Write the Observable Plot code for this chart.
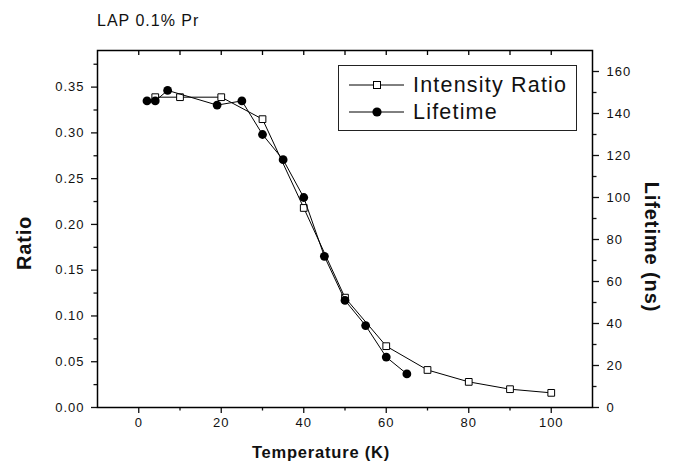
<!DOCTYPE html>
<html><head><meta charset="utf-8">
<script src="https://cdn.jsdelivr.net/npm/d3@7"></script>
<script src="https://cdn.jsdelivr.net/npm/@observablehq/plot@0.6"></script>
<style>
body{margin:0;background:#fff;}
#wrap{position:relative;width:682px;height:470px;font-family:Arial,"Liberation Sans",sans-serif;color:#111;overflow:hidden;}
.lbl{position:absolute;white-space:nowrap;line-height:1;}
.rowtxt{position:absolute;left:74px;font-size:21.5px;letter-spacing:1.2px;line-height:26px;}
</style></head><body>
<div id="wrap"></div>
<script>
const title = "LAP 0.1% Pr";
const xLabel = "Temperature (K)";
const yLeftLabel = "Ratio";
const yRightLabel = "Lifetime (ns)";
const seriesNames = ["Intensity Ratio", "Lifetime"];

const ratioTemp   = [4, 10, 20, 30, 40, 50, 60, 70, 80, 90, 100];
const ratioValues = [0.339, 0.339, 0.339, 0.315, 0.218, 0.120, 0.067, 0.041, 0.028, 0.020, 0.016];
const lifeTemp    = [2, 4, 7, 19, 25, 30, 35, 40, 45, 50, 55, 60, 65];
const lifeValues  = [146, 146, 151, 144, 146, 130, 118, 100, 72, 51, 39, 24, 16];

const xDomain = [-10, 110];
const xTicks = [0, 20, 40, 60, 80, 100];
const xMinorTicks = [10, 30, 50, 70, 90];
const xTopTicks = [0, 10, 20, 30, 40, 50, 60, 70, 80, 90, 100];
const yLeftDomain = [0, 0.39];
const yLeftTicks = [0, 0.05, 0.10, 0.15, 0.20, 0.25, 0.30, 0.35];
const yLeftMinor = [0.025, 0.075, 0.125, 0.175, 0.225, 0.275, 0.325, 0.375];
const yRightDomain = [0, 170];
const yRightTicks = [0, 20, 40, 60, 80, 100, 120, 140, 160];
const yRightMinor = [10, 30, 50, 70, 90, 110, 130, 150];

const W = 682, H = 470;
const M = {top: 50, right: 90, bottom: 63, left: 97};
const frameH = H - M.top - M.bottom;
const svgStyle = "position:absolute;left:0;top:0;background:transparent;font-family:Arial,'Liberation Sans',sans-serif;font-size:13px;letter-spacing:1px;color:#111;overflow:visible;";
const base = {width: W, height: H, marginTop: M.top, marginRight: M.right, marginBottom: M.bottom, marginLeft: M.left, style: svgStyle};

const ratioData = ratioTemp.map((t, i) => ({t, v: ratioValues[i]}));
const lifeData = lifeTemp.map((t, i) => ({t, v: lifeValues[i]}));

const plotA = Plot.plot({
  ...base,
  x: {domain: xDomain},
  y: {domain: yLeftDomain},
  marks: [
    Plot.axisX(xTicks, {anchor: "bottom", tickSize: 6, tickPadding: 4, label: null, strokeWidth: 1.3}),
    Plot.axisX(xMinorTicks, {anchor: "bottom", tickSize: 3.5, tickFormat: () => "", label: null, strokeWidth: 1.3}),
    Plot.tickX(xTopTicks, {x: d => d, insetBottom: frameH - 5, stroke: "#000", strokeWidth: 1.3}),
    Plot.axisY(yLeftTicks, {anchor: "left", tickSize: 6, tickPadding: 7, tickFormat: d3.format(".2f"), label: null, strokeWidth: 1.3}),
    Plot.axisY(yLeftMinor, {anchor: "left", tickSize: 3.5, tickFormat: () => "", label: null, strokeWidth: 1.3}),
    Plot.frame({stroke: "#000", strokeWidth: 1.5}),
    Plot.line(ratioData, {x: "t", y: "v", stroke: "#000", strokeWidth: 1}),
    Plot.dot(ratioData, {x: "t", y: "v", symbol: "square", r: 3.8, fill: "#fff", stroke: "#000", strokeWidth: 1})
  ]
});

const plotB = Plot.plot({
  ...base,
  x: {domain: xDomain, axis: null},
  y: {domain: yRightDomain},
  marks: [
    Plot.axisY(yRightTicks, {anchor: "right", tickSize: 6, tickPadding: 8, label: null, strokeWidth: 1.3}),
    Plot.axisY(yRightMinor, {anchor: "right", tickSize: 3.5, tickFormat: () => "", label: null, strokeWidth: 1.3}),
    Plot.line(lifeData, {x: "t", y: "v", stroke: "#000", strokeWidth: 1}),
    Plot.dot(lifeData, {x: "t", y: "v", r: 4.4, fill: "#000", stroke: "none"})
  ]
});

const wrap = document.getElementById("wrap");
wrap.appendChild(plotA);
wrap.appendChild(plotB);

function addLabel(text, css) {
  const d = document.createElement("div");
  d.className = "lbl";
  d.textContent = text;
  d.style.cssText += css;
  wrap.appendChild(d);
  return d;
}
addLabel(title, "left:97px;top:13px;font-size:16px;letter-spacing:1px;");
addLabel(xLabel, "left:321px;top:452px;transform:translate(-50%,-50%);font-size:16.5px;font-weight:bold;letter-spacing:0.8px;");
addLabel(yLeftLabel, "left:24px;top:243px;transform:translate(-50%,-50%) rotate(-90deg);font-size:20px;font-weight:bold;letter-spacing:0.8px;");
addLabel(yRightLabel, "left:652px;top:247px;transform:translate(-50%,-50%) rotate(90deg);font-size:20px;font-weight:bold;letter-spacing:0.9px;");

// legend
const leg = document.createElement("div");
leg.style.cssText = "position:absolute;left:338px;top:65px;width:239px;height:66px;box-sizing:border-box;border:1px solid #222;background:#fff;";
wrap.appendChild(leg);
const ns = "http://www.w3.org/2000/svg";
seriesNames.forEach((name, i) => {
  const top = 6 + i * 27;
  const s = document.createElementNS(ns, "svg");
  s.setAttribute("width", 70); s.setAttribute("height", 26);
  s.style.cssText = `position:absolute;left:0;top:${top}px;`;
  const ln = document.createElementNS(ns, "line");
  ln.setAttribute("x1", 10); ln.setAttribute("x2", 65); ln.setAttribute("y1", 13); ln.setAttribute("y2", 13);
  ln.setAttribute("stroke", "#000"); ln.setAttribute("stroke-width", 1);
  s.appendChild(ln);
  if (i === 0) {
    const r = document.createElementNS(ns, "rect");
    r.setAttribute("x", 38 - 3.5); r.setAttribute("y", 13 - 3.5); r.setAttribute("width", 7); r.setAttribute("height", 7);
    r.setAttribute("fill", "#fff"); r.setAttribute("stroke", "#000");
    s.appendChild(r);
  } else {
    const c = document.createElementNS(ns, "circle");
    c.setAttribute("cx", 38); c.setAttribute("cy", 13); c.setAttribute("r", 4.6); c.setAttribute("fill", "#000");
    s.appendChild(c);
  }
  leg.appendChild(s);
  const t = document.createElement("div");
  t.className = "rowtxt";
  t.style.top = top + "px";
  t.textContent = name;
  leg.appendChild(t);
});
</script>
</body></html>
